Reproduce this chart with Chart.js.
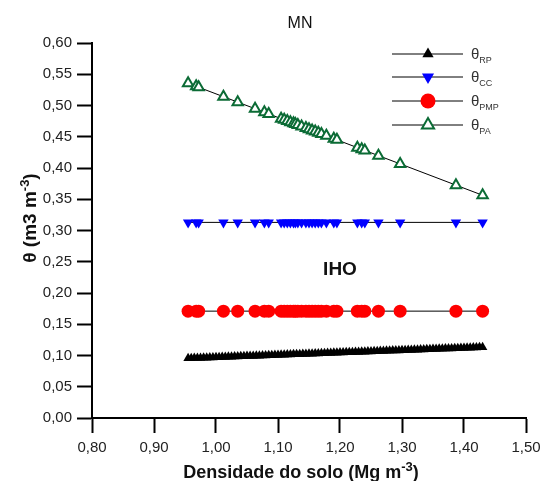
<!DOCTYPE html>
<html>
<head>
<meta charset="utf-8">
<script src="https://cdn.jsdelivr.net/npm/chart.js@4.4.0/dist/chart.umd.min.js"></script>
<style>
  html, body { margin: 0; padding: 0; background: #fff; }
  #wrap { width: 543px; height: 481px; }
</style>
</head>
<body>
<div id="wrap"><canvas id="myChart" width="543" height="481"></canvas></div>
<script>
// densidade do solo das amostras (Mg m-3)
const densidade = [0.955, 0.968, 0.972, 1.012, 1.035, 1.063, 1.078, 1.085, 1.105, 1.110,
                   1.115, 1.120, 1.125, 1.128, 1.132, 1.138, 1.145, 1.150, 1.155, 1.160,
                   1.165, 1.170, 1.178, 1.190, 1.195, 1.228, 1.235, 1.240, 1.262, 1.297,
                   1.387, 1.430];

// umidade na capacidade de campo
const thetaCC = [0.313, 0.313, 0.313, 0.313, 0.313, 0.313, 0.313, 0.313, 0.313, 0.313,
                 0.313, 0.313, 0.313, 0.313, 0.313, 0.313, 0.313, 0.313, 0.313, 0.313,
                 0.313, 0.313, 0.313, 0.313, 0.313, 0.313, 0.313, 0.313, 0.313, 0.313,
                 0.313, 0.313];

// umidade no ponto de murcha permanente
const thetaPMP = [0.171, 0.171, 0.171, 0.171, 0.171, 0.171, 0.171, 0.171, 0.171, 0.171,
                  0.171, 0.171, 0.171, 0.171, 0.171, 0.171, 0.171, 0.171, 0.171, 0.171,
                  0.171, 0.171, 0.171, 0.171, 0.171, 0.171, 0.171, 0.171, 0.171, 0.171,
                  0.171, 0.171];

// umidade com porosidade de aeração de 10%
const thetaPA = [0.5356, 0.5307, 0.5292, 0.5141, 0.5054, 0.4949, 0.4892, 0.4866, 0.4790, 0.4771,
                 0.4752, 0.4734, 0.4715, 0.4703, 0.4688, 0.4666, 0.4639, 0.4620, 0.4602, 0.4583,
                 0.4564, 0.4545, 0.4515, 0.4469, 0.4451, 0.4326, 0.4300, 0.4281, 0.4198, 0.4066,
                 0.3726, 0.3564];

// resistência à penetração: curva calculada em densidades mais finas
const densidadeRP = [0.955, 0.960, 0.965, 0.970, 0.975, 0.980, 0.985, 0.990, 0.995, 1.000,
                     1.005, 1.010, 1.015, 1.020, 1.025, 1.030, 1.035, 1.040, 1.045, 1.050,
                     1.055, 1.060, 1.065, 1.070, 1.075, 1.080, 1.085, 1.090, 1.095, 1.100,
                     1.105, 1.110, 1.115, 1.120, 1.125, 1.130, 1.135, 1.140, 1.145, 1.150,
                     1.155, 1.160, 1.165, 1.170, 1.175, 1.180, 1.185, 1.190, 1.195, 1.200,
                     1.205, 1.210, 1.215, 1.220, 1.225, 1.230, 1.235, 1.240, 1.245, 1.250,
                     1.255, 1.260, 1.265, 1.270, 1.275, 1.280, 1.285, 1.290, 1.295, 1.300,
                     1.305, 1.310, 1.315, 1.320, 1.325, 1.330, 1.335, 1.340, 1.345, 1.350,
                     1.355, 1.360, 1.365, 1.370, 1.375, 1.380, 1.385, 1.390, 1.395, 1.400,
                     1.405, 1.410, 1.415, 1.420, 1.425, 1.430];
const thetaRP = [0.0955, 0.0957, 0.0959, 0.0961, 0.0962, 0.0964, 0.0966, 0.0968, 0.0970, 0.0972,
                 0.0974, 0.0976, 0.0977, 0.0979, 0.0981, 0.0983, 0.0985, 0.0987, 0.0989, 0.0991,
                 0.0992, 0.0994, 0.0996, 0.0998, 0.1000, 0.1002, 0.1004, 0.1006, 0.1007, 0.1009,
                 0.1011, 0.1013, 0.1015, 0.1017, 0.1019, 0.1021, 0.1022, 0.1024, 0.1026, 0.1028,
                 0.1030, 0.1032, 0.1034, 0.1036, 0.1037, 0.1039, 0.1041, 0.1043, 0.1045, 0.1047,
                 0.1049, 0.1051, 0.1052, 0.1054, 0.1056, 0.1058, 0.1060, 0.1062, 0.1064, 0.1066,
                 0.1067, 0.1069, 0.1071, 0.1073, 0.1075, 0.1077, 0.1079, 0.1081, 0.1082, 0.1084,
                 0.1086, 0.1088, 0.1090, 0.1092, 0.1094, 0.1096, 0.1097, 0.1099, 0.1101, 0.1103,
                 0.1105, 0.1107, 0.1109, 0.1111, 0.1112, 0.1114, 0.1116, 0.1118, 0.1120, 0.1122,
                 0.1124, 0.1126, 0.1127, 0.1129, 0.1131, 0.1133];

const legendas = [['θ', 'RP'], ['θ', 'CC'], ['θ', 'PMP'], ['θ', 'PA']];

const pares = (xs, ys) => xs.map((x, i) => ({x: x, y: ys[i]}));
const virgula = (v) => v.toFixed(2).replace('.', ',');
const FONTE = '"Liberation Sans", Arial, sans-serif';

// texto com partes em sobrescrito/subscrito
function textoRico(ctx, partes, x, y, align)
{
    let total = 0;
    partes.forEach(p => { ctx.font = p.font; total += ctx.measureText(p.t).width; });
    let cx = align === 'center' ? x - total / 2 : x;
    ctx.textAlign = 'left';
    ctx.textBaseline = 'alphabetic';
    partes.forEach(p => {
        ctx.font = p.font;
        ctx.fillText(p.t, cx, y + (p.dy || 0));
        cx += ctx.measureText(p.t).width;
    });
}

const series = [
    {label: 'RP',  data: pares(densidadeRP, thetaRP), pointStyle: 'triangle', radius: 5.5, rotation: 0,
     fill: '#000', stroke: '#000', bw: 0},
    {label: 'CC',  data: pares(densidade, thetaCC), pointStyle: 'triangle', radius: 6, rotation: 180,
     fill: '#0000ff', stroke: '#0000ff', bw: 0},
    {label: 'PMP', data: pares(densidade, thetaPMP), pointStyle: 'circle', radius: 6.5, rotation: 0,
     fill: '#ff0000', stroke: '#ff0000', bw: 0},
    {label: 'PA',  data: pares(densidade, thetaPA), pointStyle: 'triangle', radius: 6, rotation: 0,
     fill: '#ffffff', stroke: '#0b6b35', bw: 2}
];

// legenda, títulos e rótulo IHO
const extras = {
    id: 'extras',
    afterDraw(chart) {
        const ctx = chart.ctx;
        ctx.save();
        ctx.fillStyle = '#111';
        ctx.font = '16px ' + FONTE;
        ctx.textAlign = 'center';
        ctx.fillText('MN', 300, 28);

        ctx.font = 'bold 19px ' + FONTE;
        ctx.fillText('IHO', 340, 275);

        const bold = 'bold 18px ' + FONTE;
        const sup = 'bold 13px ' + FONTE;
        textoRico(ctx, [{t: 'Densidade do solo (Mg m', font: bold}, {t: '-3', font: sup, dy: -7},
                        {t: ')', font: bold}], 301, 478, 'center');

        ctx.save();
        ctx.translate(36, 218);
        ctx.rotate(-Math.PI / 2);
        textoRico(ctx, [{t: 'θ (m3 m', font: 'bold 19px ' + FONTE}, {t: '-3', font: sup, dy: -7},
                        {t: ')', font: 'bold 19px ' + FONTE}], 0, 0, 'center');
        ctx.restore();

        const linhasY = [54, 77, 101, 125];
        series.forEach((s, i) => {
            const y = linhasY[i];
            ctx.strokeStyle = '#000';
            ctx.lineWidth = 1;
            ctx.beginPath();
            ctx.moveTo(392, y);
            ctx.lineTo(463, y);
            ctx.stroke();
            ctx.fillStyle = s.fill;
            ctx.strokeStyle = s.stroke;
            ctx.lineWidth = s.bw;
            Chart.helpers.drawPoint(ctx, {pointStyle: s.pointStyle, radius: s.radius + 1,
                                          rotation: s.rotation, borderWidth: s.bw}, 428, y);
            ctx.fillStyle = '#333';
            textoRico(ctx, [{t: legendas[i][0], font: '15px ' + FONTE},
                            {t: legendas[i][1], font: '9px ' + FONTE, dy: 4}], 471, y + 5, 'left');
        });
        ctx.restore();
    }
};

const ctx = document.getElementById('myChart').getContext('2d');
const chart = new Chart(ctx, {
    type: 'scatter',
    data: {
        datasets: series.map(s => ({
            label: s.label,
            data: s.data,
            showLine: s.label !== 'RP',
            borderColor: '#000',
            borderWidth: 1,
            pointStyle: s.pointStyle,
            pointRadius: s.radius,
            pointRotation: s.rotation,
            pointBackgroundColor: s.fill,
            pointBorderColor: s.stroke,
            pointBorderWidth: s.bw,
            clip: false
        })).reverse()
    },
    options: {
        responsive: false,
        animation: false,
        layout: {padding: {left: 0, top: 43, right: 0, bottom: 0}},
        plugins: {legend: {display: false}, tooltip: {enabled: false}},
        scales: {
            x: {
                type: 'linear', min: 0.8, max: 1.5,
                ticks: {stepSize: 0.1, callback: virgula, color: '#222', padding: 6,
                        maxRotation: 0, font: {family: FONTE, size: 15}},
                grid: {drawOnChartArea: false, tickLength: 15, tickColor: '#000', tickWidth: 2},
                border: {display: true, color: '#000', width: 2},
                afterFit: (s) => { s.height = 63; s.paddingLeft = 0; s.paddingRight = 17; }
            },
            y: {
                min: 0, max: 0.6,
                ticks: {stepSize: 0.05, callback: virgula, color: '#222', padding: 5,
                        font: {family: FONTE, size: 15}},
                grid: {drawOnChartArea: false, tickLength: 15, tickColor: '#000', tickWidth: 2},
                border: {display: true, color: '#000', width: 2},
                afterFit: (s) => { s.width = 92; s.paddingTop = 0; s.paddingBottom = 0; }
            }
        }
    },
    plugins: [extras]
});
</script>
</body>
</html>
